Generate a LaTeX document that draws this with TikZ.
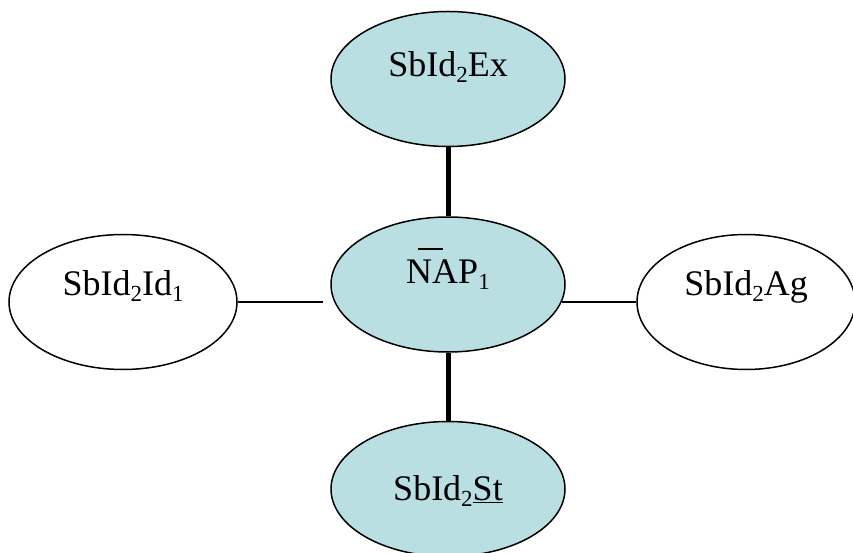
\documentclass[tikz,border=0pt]{standalone}
\usepackage{fontspec}
\setmainfont{Liberation Serif}
\usetikzlibrary{shapes.geometric}
\definecolor{ellblue}{RGB}{185,223,227}
\newcommand\sbs[1]{\raisebox{-6pt}{\fontsize{23}{25}\selectfont #1}}
\tikzset{
  ell/.style={ellipse, draw=black, line width=1.5pt, minimum width=234pt,
    minimum height=135pt, inner sep=0pt, text height=25pt, text depth=29pt,
    font=\fontsize{36}{43}\selectfont},
  filled/.style={fill=ellblue},
  thicklink/.style={line width=5pt},
  thinlink/.style={line width=1.5pt},
}
\begin{document}
\begin{tikzpicture}[x=1pt,y=-1pt]
\useasboundingbox (0,0) rectangle (853,553);
\clip (0,0) rectangle (853,553);
\node[ell, filled] (top) at (448,79) {SbId\sbs{2}Ex};
\node[ell, filled, text depth=28pt] (nap) at (448,284.5) {\rlap{\hspace{0.33em}\rule[0.92em]{0.69em}{0.055em}}NAP\sbs{1}};
\node[ell, filled, text depth=3pt] (bot) at (448,489) {SbId\sbs{2}\underline{St}};
\node[ell, minimum width=228pt, text depth=39pt] (left) at (123,302) {SbId\sbs{2}Id\sbs{1}};
\node[ell, minimum width=218pt, text depth=39pt] (right) at (746,302) {SbId\sbs{2}Ag};
\draw[thicklink] (top) -- (nap);
\draw[thicklink] (nap) -- (bot);
\draw[thinlink, shorten >=7pt] (left.east) -- (left.east -| nap.west);
\draw[thinlink, shorten >=-3.5pt] (right.west) -- (right.west -| nap.east);
\end{tikzpicture}
\end{document}
